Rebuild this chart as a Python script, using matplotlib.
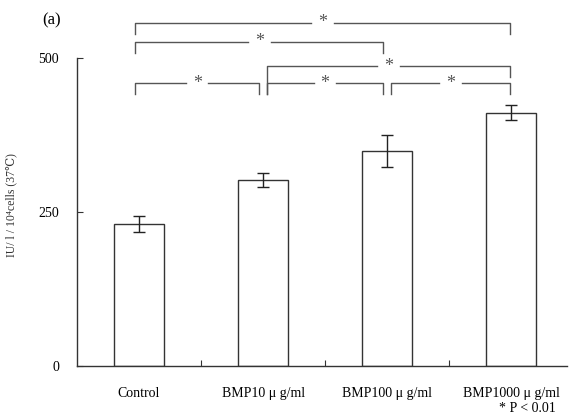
import matplotlib
matplotlib.use("Agg")
import matplotlib.pyplot as plt

categories = ["Control", "BMP10 μ g/ml", "BMP100 μ g/ml", "BMP1000 μ g/ml"]
values = [230, 302, 349, 411]
errors = [13, 12, 26, 12]
yticks = [0, 250, 500]

# significance brackets: (left index, right index, level, left leg bottom, right leg bottom)
brackets = [
    (0, 3, 557, 539, 539),
    (0, 2, 526, 508, 508),
    (1, 3, 487, 442, 469),
    (0, 1, 459, 442, 442),
    (1, 2, 459, 442, 442),
    (2, 3, 459, 442, 442),
]

plt.rcParams['font.family'] = ['Liberation Serif', 'DejaVu Serif']
fig = plt.figure(figsize=(5.69, 4.17), dpi=100)
ax = fig.add_axes([77/569, 1-366/417, (567-77)/569, (366-58)/417])

x = list(range(len(categories)))
ax.bar(x, values, width=0.4, color='white', edgecolor='#333333', linewidth=1.0, zorder=2)
ax.errorbar(x, values, yerr=errors, fmt='none', ecolor='#222222', elinewidth=1.0,
            capsize=4, capthick=1.0, zorder=3)

ax.set_xlim(-0.5, 3.45)
ax.set_ylim(0, 500)
ax.set_yticks(yticks)
ax.set_yticklabels([str(v) for v in yticks], fontsize=10)
ax.set_xticks([0.5, 1.5, 2.5])
ax.set_xticks(x, minor=True)
ax.set_xticklabels([])
ax.set_xticklabels(categories, minor=True, fontsize=10)
ax.tick_params(axis='x', which='major', direction='in', length=4, width=0.8, color='#333333')
ax.tick_params(axis='x', which='minor', length=0, pad=15)
ax.tick_params(axis='y', direction='in', length=4, width=0.8, color='#333333', pad=13)
for s in ['top', 'right']:
    ax.spines[s].set_visible(False)
for s in ['left', 'bottom']:
    ax.spines[s].set_color('#333333')
    ax.spines[s].set_linewidth(1.0)

ax.set_ylabel("IU/ l / 10⁴cells (37℃)", fontsize=8.5, color='#333333')
ax.yaxis.set_label_coords((17-77)/490, (366-205)/308)

gc = '#555555'
off = 0.03
for i, j, lvl, lb, rb in brackets:
    xl = i + (-off if i == 0 else off)
    xr = j - off if j < 3 else j - 0.01
    if i == 0:
        xl = -0.03
    xm = (xl + xr) / 2
    gap = 0.09
    ax.plot([xl, xl, xm - gap], [lb, lvl, lvl], color=gc, lw=1.0, clip_on=False)
    ax.plot([xm + gap, xr, xr], [lvl, lvl, rb], color=gc, lw=1.0, clip_on=False)
    ax.text(xm, lvl, "*", ha='center', va='center', fontsize=13, color=gc, clip_on=False)

fig.text(42/569, 1-20/417, "(a)", fontsize=12, va='center', ha='left')
fig.text(556/569, 1-409/417, "* P < 0.01", fontsize=10, va='center', ha='right')

fig.savefig("out.png", dpi=100)
